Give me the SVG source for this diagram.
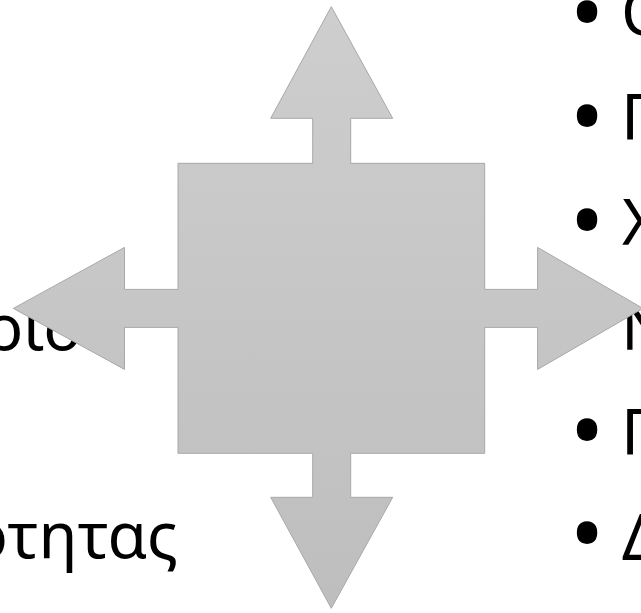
<svg xmlns="http://www.w3.org/2000/svg" width="641" height="613" viewBox="0 0 641 613">
  <style>
    .t { font-family: "Noto Sans", "Open Sans", "DejaVu Sans", sans-serif; font-size: 64px; fill: #000000; }
    .b { font-family: "Noto Sans", "Open Sans", "DejaVu Sans", sans-serif; font-size: 92px; fill: #000000; text-anchor: middle; }
    .shape { fill: url(#g); stroke: #a8a8a8; stroke-width: 1; }
  </style>
  <defs>
    <linearGradient id="g" x1="0" y1="0" x2="0" y2="1">
      <stop offset="0" stop-color="#cecece"/>
      <stop offset="1" stop-color="#bebebe"/>
    </linearGradient>
  </defs>
  <rect width="641" height="613" fill="#ffffff"/>
  <g id="left-text">
    <text class="t" x="82" y="350" text-anchor="end">ριο</text>
    <text class="t" x="178" y="558" text-anchor="end">ότητας</text>
  </g>
  <g id="right-list">
    <text class="b" x="587" y="45">•</text><text class="t" x="621" y="35">Ο</text>
    <text class="b" x="587" y="149">•</text><text class="t" x="621" y="140">Π</text>
    <text class="b" x="587" y="253">•</text><text class="t" x="622" y="245">Χ</text>
    <text class="t" x="621" y="350">Ν</text>
    <text class="b" x="587" y="463">•</text><text class="t" x="621" y="455">Π</text>
    <text class="b" x="587" y="566">•</text><text class="t" x="622" y="560">Δ</text>
  </g>
  <g id="quad-arrow">
    <path class="shape" d="M331.3,6.7 L392.7,118.3 L350.7,118.3 L350.7,163.3 L484.7,163.3 L484.7,289.4 L537.6,289.4 L537.6,247.4 L643,308.4 L537.6,369.4 L537.6,327.4 L484.7,327.4 L484.7,453.3 L350.7,453.3 L350.7,497.3 L392.7,497.3 L331.3,608.3 L270.7,497.3 L312.7,497.3 L312.7,453.3 L178,453.3 L178,327.4 L124.5,327.4 L124.5,369.4 L13.3,308.4 L124.5,247.4 L124.5,289.4 L178,289.4 L178,163.3 L312.7,163.3 L312.7,118.3 L270.7,118.3 Z"/>
  </g>
</svg>
